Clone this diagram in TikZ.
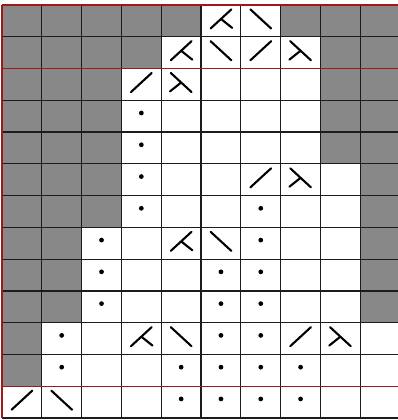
\documentclass[tikz,border=0pt]{standalone}
\usepackage{tikz}
\usetikzlibrary{calc}
\definecolor{ink}{HTML}{1C1C1C}
\definecolor{shade}{HTML}{888888}
\definecolor{rowmark}{HTML}{A01818}
\tikzset{cellshade/.style={fill=shade,draw=none}, gridline/.style={draw=ink,line width=.9pt}, markline/.style={draw=rowmark,line width=1pt}, stitch/.style={draw=black,line width=1.5pt,line cap=round}, knot/.style={fill=black}, rslant/.pic={\draw[stitch] (-.26,.3) -- (.26,-.3);}, lslant/.pic={\draw[stitch] (-.26,-.3) -- (.26,.3);}, ldec/.pic={\draw[stitch] (-.26,.3) -- (.26,-.3) (0,0) -- (.28,.28);}, rdec/.pic={\draw[stitch] (-.26,-.3) -- (.26,.3) (0,0) -- (-.28,.28);}}

\begin{document}
\begin{tikzpicture}[x=1cm,y=-.798cm]
\useasboundingbox (-.05,-.157) rectangle (9.925,13.063);
\foreach \r/\lft/\rgt in {0/5/7,1/4/8,2/3/8,3/3/8,4/3/8,5/3/9,6/3/9,7/2/9,8/2/9,9/2/9,10/1/10,11/1/10,12/0/10}{
 \fill[cellshade] (0,\r) rectangle (\lft,\r+1);
 \fill[cellshade] (\rgt,\r) rectangle (10,\r+1);
}
\foreach \c in {1,...,10} \draw[gridline] (\c,0) -- (\c,13);
\foreach \r in {1,...,13} \draw[gridline] (0,\r) -- (10,\r);
\foreach \r in {0,2,12} \draw[markline] (0,\r) -- (10,\r);
\draw[markline] (0,0) -- (0,13);
\foreach \c/\r in {3/3,3/4,3/5,3/6,6/6,2/7,6/7,2/8,5/8,6/8,2/9,5/9,6/9,1/10,5/10,6/10,1/11,4/11,5/11,6/11,7/11,4/12,5/12,6/12,7/12}
 \fill[knot] (\c+.5,\r+.4) circle (1.7pt);
\foreach \c/\r in {6/1,3/2,6/5,7/10,0/12} \pic at (\c+.5,\r+.44) {rslant};
\foreach \c/\r in {6/0,5/1,5/7,4/10,1/12} \pic at (\c+.5,\r+.44) {lslant};
\foreach \c/\r in {5/0,4/1,4/7,3/10} \pic at (\c+.5,\r+.44) {ldec};
\foreach \c/\r in {7/1,4/2,7/5,8/10} \pic at (\c+.5,\r+.44) {rdec};
\end{tikzpicture}
\end{document}
